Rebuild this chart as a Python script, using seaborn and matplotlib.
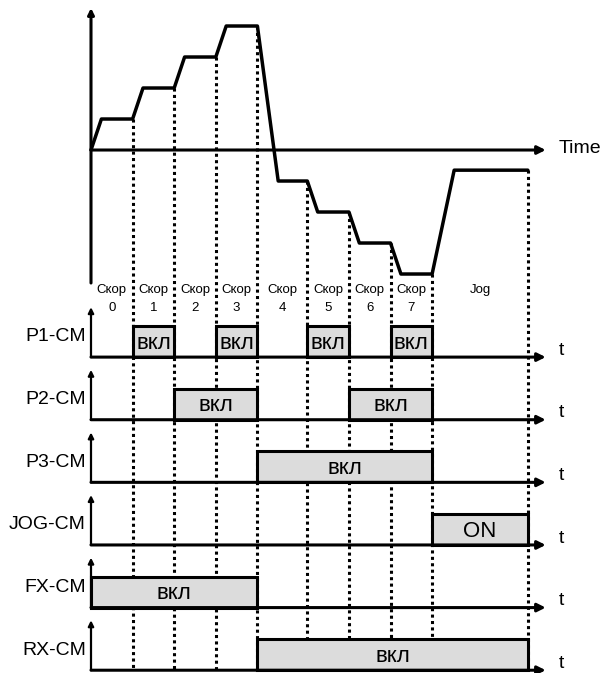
import matplotlib
matplotlib.use("Agg")
import matplotlib.pyplot as plt
import seaborn as sns
import pandas as pd

# границы отрезков времени (скорости 0..7 и Jog)
t_bounds = [0, 1, 2, 3, 4, 5.2, 6.2, 7.2, 8.2, 10.5]
seg_names = ["Скор", "Скор", "Скор", "Скор", "Скор", "Скор", "Скор", "Скор", "Jog"]
seg_nums = ["0", "1", "2", "3", "4", "5", "6", "7", ""]

# уровень скорости на каждом отрезке и время разгона в его начале
speed_levels = [1, 2, 3, 4, -1, -2, -3, -4, -0.65]
ramp_times = [0.25, 0.25, 0.25, 0.25, 0.5, 0.25, 0.25, 0.25, 0.53]

# состояния входов по отрезкам
channels = ["P1-CM", "P2-CM", "P3-CM", "JOG-CM", "FX-CM", "RX-CM"]
p1 = [0, 1, 0, 1, 0, 1, 0, 1, 0]
p2 = [0, 0, 1, 1, 0, 0, 1, 1, 0]
p3 = [0, 0, 0, 0, 1, 1, 1, 1, 0]
jog = [0, 0, 0, 0, 0, 0, 0, 0, 1]
fx = [1, 1, 1, 1, 0, 0, 0, 0, 0]
rx = [0, 0, 0, 0, 1, 1, 1, 1, 1]
states = [p1, p2, p3, jog, fx, rx]
on_text = ["вкл", "вкл", "вкл", "ON", "вкл", "вкл"]

sns.set_theme(style="white")
plt.rcParams["font.family"] = ["Liberation Sans", "DejaVu Sans"]
plt.rcParams["text.color"] = "black"

fig = plt.figure(figsize=(6.1, 6.73), dpi=100)
ax = fig.add_axes([0, 0, 1, 1])
ax.set_xlim(-2.1875, 12.476)
ax.set_ylim(-16.87, 4.839)
ax.axis("off")

LW = 2.2
arrow_end = 10.93

# профиль скорости
tt = [0]
vv = [0]
for i in range(len(speed_levels)):
    tt.append(t_bounds[i] + ramp_times[i])
    vv.append(speed_levels[i])
    tt.append(t_bounds[i + 1])
    vv.append(speed_levels[i])
profile = pd.DataFrame({"t": tt, "v": vv})
sns.lineplot(data=profile, x="t", y="v", ax=ax, color="black", lw=LW + 0.3,
             sort=False, estimator=None, zorder=5)

# оси верхнего графика
ax.annotate("", xy=(0, 4.58), xytext=(0, -4.29),
            arrowprops=dict(arrowstyle="-|>", lw=LW, color="black",
                            mutation_scale=9, shrinkA=0, shrinkB=0))
ax.annotate("", xy=(arrow_end, 0), xytext=(0, 0),
            arrowprops=dict(arrowstyle="-|>", lw=LW, color="black",
                            mutation_scale=12, shrinkA=0, shrinkB=0))
ax.text(11.25, 0.05, "Time", fontsize=14, ha="left", va="center")

# подписи отрезков
for i in range(len(seg_names)):
    xc = (t_bounds[i] + t_bounds[i + 1]) / 2
    ax.text(xc, -4.5, seg_names[i], fontsize=9.5, ha="center", va="center")
    if seg_nums[i]:
        ax.text(xc, -5.1, seg_nums[i], fontsize=9.5, ha="center", va="center")

base0 = -6.68
step = 2.02
bottom = base0 - step * (len(channels) - 1)

# пунктирные линии
for i in range(1, len(t_bounds)):
    ax.plot([t_bounds[i], t_bounds[i]], [speed_levels[i - 1], bottom],
            color="black", lw=LW, ls=(0, (1.0, 1.1)), zorder=1)

# диаграммы входов
for k, name in enumerate(channels):
    base = base0 - step * k
    ax.annotate("", xy=(0, base + 1.61), xytext=(0, base),
                arrowprops=dict(arrowstyle="-|>", lw=1.6, color="black",
                                mutation_scale=8, shrinkA=0, shrinkB=0))
    ax.annotate("", xy=(arrow_end, base), xytext=(0, base),
                arrowprops=dict(arrowstyle="-|>", lw=LW, color="black",
                                mutation_scale=12, shrinkA=0, shrinkB=0),
                zorder=6)
    ax.text(11.25, base + 0.22, "t", fontsize=14, ha="left", va="center")
    ax.text(-0.12, base + 0.65, name, fontsize=14, ha="right", va="center")
    st = states[k]
    i = 0
    while i < len(st):
        if st[i]:
            j = i
            while j + 1 < len(st) and st[j + 1]:
                j += 1
            x0, x1 = t_bounds[i], t_bounds[j + 1]
            ax.bar(x0, 1, width=x1 - x0, bottom=base, align="edge",
                   color="#dcdcdc", edgecolor="black", lw=LW, zorder=4)
            ax.text((x0 + x1) / 2, base + 0.45, on_text[k],
                    fontsize=16, ha="center", va="center", zorder=7)
            i = j + 1
        else:
            i += 1

fig.savefig("out.png", dpi=100)
